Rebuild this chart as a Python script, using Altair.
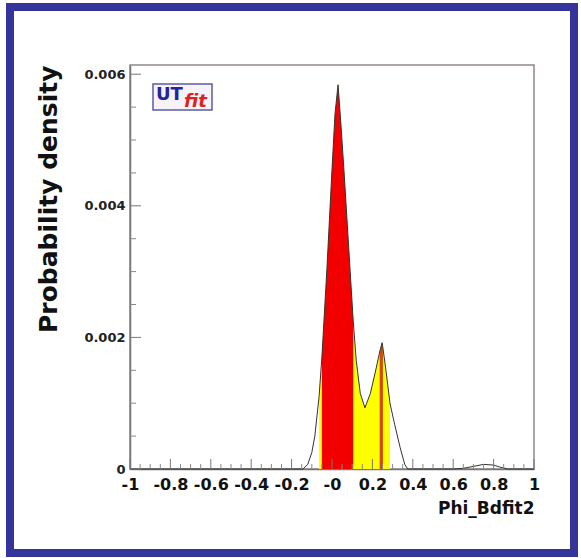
import altair as alt
import pandas as pd

# Posterior density of Phi_Bdfit2 (smoothed curve)
phi = [-1.0, -0.60, -0.30, -0.144, -0.12, -0.10, -0.085, -0.064, -0.05, -0.025,
       0.0, 0.015, 0.03, 0.045, 0.06, 0.09, 0.105, 0.12, 0.14, 0.163,
       0.19, 0.22, 0.236, 0.248, 0.252, 0.265, 0.287, 0.31, 0.337, 0.36,
       0.375, 0.60, 0.65, 0.70, 0.75, 0.80, 0.83, 0.87, 1.0]
density = [0.0, 0.0, 0.0, 0.0, 0.00007, 0.00025, 0.0005, 0.0011, 0.0017, 0.00305,
           0.00455, 0.0054, 0.00584, 0.0052, 0.0045, 0.0030, 0.00225, 0.00165, 0.00115, 0.00093,
           0.00115, 0.00155, 0.00178, 0.00192, 0.00184, 0.00155, 0.0010, 0.00068, 0.00033, 0.00007,
           0.0, 0.0, 0.00001, 0.00004, 0.00007, 0.00006, 0.00003, 0.0, 0.0]

# Probability intervals
interval_95 = [-0.064, 0.287]
interval_68 = [[-0.05, 0.105], [0.236, 0.252]]

# Axis ticks and labels
x_major = [-1.0, -0.8, -0.6, -0.4, -0.2, 0.0, 0.2, 0.4, 0.6, 0.8, 1.0]
x_labels = ["-1", "-0.8", "-0.6", "-0.4", "-0.2", "-0", "0.2", "0.4", "0.6", "0.8", "1"]
x_minor = [-0.95, -0.9, -0.85, -0.75, -0.7, -0.65, -0.55, -0.5, -0.45,
           -0.35, -0.3, -0.25, -0.15, -0.1, -0.05, 0.05, 0.1, 0.15,
           0.25, 0.3, 0.35, 0.45, 0.5, 0.55, 0.65, 0.7, 0.75, 0.85, 0.9, 0.95]
y_major = [0.0, 0.002, 0.004, 0.006]
y_labels = ["0", "0.002", "0.004", "0.006"]
y_minor = [0.0005, 0.001, 0.0015, 0.0025, 0.003, 0.0035, 0.0045, 0.005, 0.0055]

W, H = 404, 404
FONT = "DejaVu Sans"

curve = pd.DataFrame({"phi": phi, "density": density})

x_scale = alt.Scale(domain=[-1, 1], nice=False, zero=False)
y_scale = alt.Scale(domain=[0, 0.00614], nice=False)

x_label_expr = "[" + ",".join("'%s'" % s for s in x_labels) + "][round((datum.value + 1) * 5)]"
y_label_expr = "[" + ",".join("'%s'" % s for s in y_labels) + "][round(datum.value / 0.002)]"

x_axis = alt.Axis(
    values=x_major, ticks=False, grid=False,
    labelExpr=x_label_expr, labelFont=FONT, labelFontSize=16, labelFontWeight="bold",
    labelColor="#111", labelPadding=7, labelFlush=False, labelOverlap=False,
    domainColor="#777", domainWidth=1.5,
    titleFont=FONT, titleFontSize=17, titleFontWeight="bold", titleColor="#111",
    titleAlign="right", titleBaseline="alphabetic", titleX=W, titleY=44,
)
y_axis = alt.Axis(
    values=y_major, ticks=False, grid=False,
    labelExpr=y_label_expr, labelFont=FONT, labelFontSize=13, labelFontWeight="bold",
    labelColor="#222", labelPadding=5, labelFlush=False, labelOverlap=False,
    domainColor="#777", domainWidth=1.5,
    titleFont=FONT, titleFontSize=25, titleFontWeight="bold", titleColor="#111",
    titleAngle=270, titleAlign="right", titleBaseline="middle", titleX=-82, titleY=0,
)

X = alt.X("phi:Q", scale=x_scale, axis=x_axis, title="Phi_Bdfit2")
Y = alt.Y("density:Q", scale=y_scale, axis=y_axis, title="Probability density")

base = alt.Chart(curve)

area95 = base.transform_filter(
    alt.FieldRangePredicate(field="phi", range=interval_95)
).mark_area(color="#ffff00", interpolate="linear").encode(x=X, y=Y)

area68_main = base.transform_filter(
    alt.FieldRangePredicate(field="phi", range=interval_68[0])
).mark_area(color="#f20000", interpolate="linear").encode(x=X, y=Y)

area68_side = base.transform_filter(
    alt.FieldRangePredicate(field="phi", range=interval_68[1])
).mark_area(color="#d04a0c", interpolate="linear").encode(x=X, y=Y)

line = base.mark_line(color="#333333", strokeWidth=1, interpolate="linear").encode(x=X, y=Y)

# Inward-pointing tick marks, as on the original frame
xt_major = alt.Chart(pd.DataFrame({"phi": x_major})).mark_rule(color="#777", strokeWidth=1).encode(
    x=X, y=alt.value(H), y2=alt.value(H - 10))
xt_minor = alt.Chart(pd.DataFrame({"phi": x_minor})).mark_rule(color="#888", strokeWidth=1).encode(
    x=X, y=alt.value(H), y2=alt.value(H - 5))
yt_major = alt.Chart(pd.DataFrame({"density": y_major})).mark_rule(color="#777", strokeWidth=1).encode(
    y=Y, x=alt.value(0), x2=alt.value(11))
yt_minor = alt.Chart(pd.DataFrame({"density": y_minor})).mark_rule(color="#888", strokeWidth=1).encode(
    y=Y, x=alt.value(0), x2=alt.value(6))

one = pd.DataFrame({"k": [0]})

# Outer canvas border
border = alt.Chart(one).mark_rect(filled=False, stroke="#34349a", strokeWidth=8).encode(
    x=alt.value(-120), x2=alt.value(444), y=alt.value(-58), y2=alt.value(488))

# UTfit badge
logo_box = alt.Chart(one).mark_rect(fill="#f5f3f8", stroke="#5c5ca8", strokeWidth=1.5).encode(
    x=alt.value(23), x2=alt.value(82), y=alt.value(19), y2=alt.value(45))
logo_ut = alt.Chart(one).mark_text(
    text="UT", align="left", baseline="alphabetic", font=FONT, fontSize=18,
    fontWeight="bold", color="#25259a").encode(x=alt.value(26), y=alt.value(35))
logo_fit = alt.Chart(one).mark_text(
    text="fit", align="left", baseline="alphabetic", font=FONT, fontSize=18,
    fontWeight="bold", fontStyle="italic", color="#e02020").encode(x=alt.value(54), y=alt.value(42))

chart = alt.layer(
    area95, area68_main, area68_side, line,
    xt_major, xt_minor, yt_major, yt_minor,
    border, logo_box, logo_ut, logo_fit,
).properties(
    width=W, height=H,
    autosize=alt.AutoSizeParams(type="none"),
    padding={"left": 130, "top": 65, "right": 47, "bottom": 89},
    background="white",
).configure_view(stroke="#908888", strokeWidth=1.5)

chart.save("out.html", embed_options={"renderer": "svg", "actions": False})
